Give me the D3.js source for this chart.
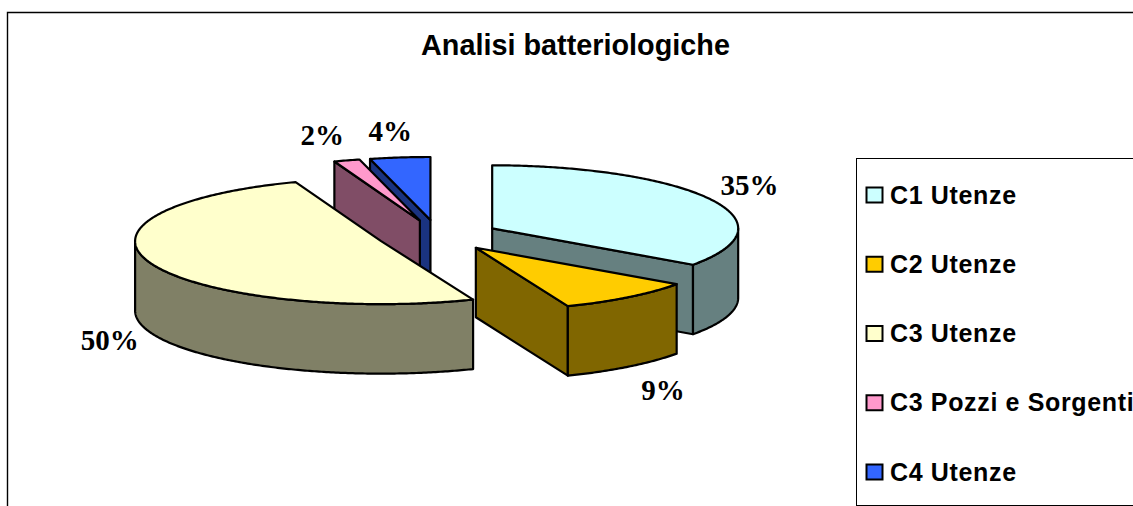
<!DOCTYPE html>
<html>
<head>
<meta charset="utf-8">
<script src="https://cdn.jsdelivr.net/npm/d3@7"></script>
<style>
  html, body { margin: 0; padding: 0; background: #fff; overflow: hidden; }
  svg { display: block; }
</style>
</head>
<body>
<div id="chart"></div>
<script>
// data
var categories = ['C1 Utenze', 'C2 Utenze', 'C3 Utenze', 'C3 Pozzi e Sorgenti', 'C4 Utenze'];
var values = [34.8, 9.1, 50.45, 1.7, 3.95];
var topColors = ['#ccffff', '#ffcc00', '#ffffcc', '#ff99cc', '#3366ff'];
var sideColors = ['#668080', '#806600', '#808066', '#804d66', '#1a3380'];
var chartTitle = 'Analisi batteriologiche';

// layout of the tilted pie
var width = 1133, height = 506;
var cx = 438, cy = 235.5;
var rx = 246, ry = 63;
var depth = 69.5;
var explode = 61;
var labelShiftX = [-2, 6, 1, -11, -4];
var labelShiftY = [-1, 5, 0, 0, 0];
var legendRows = d3.scalePoint().domain(categories).range([195, 472]);

var svg = d3.select('#chart').append('svg')
    .attr('width', width)
    .attr('height', height);

// chart frame
svg.append('path')
    .attr('d', 'M7.5,' + height + 'V12.5H' + width)
    .attr('fill', 'none')
    .attr('stroke', '#000')
    .attr('stroke-width', 1.4);

svg.append('text')
    .attr('x', 575.5)
    .attr('y', 55)
    .attr('text-anchor', 'middle')
    .attr('font-family', '"Liberation Sans", Arial, sans-serif')
    .attr('font-weight', 'bold')
    .attr('font-size', 28.8)
    .text(chartTitle);

// angles come from d3.pie, 0 is 12 o'clock, clockwise
var pie = d3.pie().sort(null).value(function(d) { return d; });
var arcs = pie(values).map(function(d, i) {
  var mid = (d.startAngle + d.endAngle) / 2;
  return {
    index: i,
    start: d.startAngle,
    end: d.endAngle,
    mid: mid,
    ox: cx + explode * Math.sin(mid),
    oy: cy - explode * (ry / rx) * Math.cos(mid)
  };
});

function rim(a, angle, drop) {
  return [a.ox + rx * Math.sin(angle), a.oy - ry * Math.cos(angle) + (drop || 0)];
}

function sampleAngles(from, to) {
  var n = Math.max(2, Math.ceil((to - from) / 0.01));
  return d3.range(n + 1).map(function(k) { return from + (to - from) * k / n; });
}

var line = d3.line();

function topFace(a) {
  var pts = [[a.ox, a.oy]];
  sampleAngles(a.start, a.end).forEach(function(t) { pts.push(rim(a, t)); });
  return line(pts) + 'Z';
}

function cutFace(a, angle) {
  var p = rim(a, angle);
  return line([[a.ox, a.oy], p, [p[0], p[1] + depth], [a.ox, a.oy + depth]]) + 'Z';
}

// outer wall, only the part facing the viewer
function outerWall(a) {
  var from = Math.max(a.start, Math.PI / 2);
  var to = Math.min(a.end, Math.PI * 1.5);
  if (to <= from) return null;
  var ts = sampleAngles(from, to);
  var pts = ts.map(function(t) { return rim(a, t); });
  var low = ts.slice().reverse().map(function(t) { return rim(a, t, depth); });
  return line(pts.concat(low)) + 'Z';
}

// back slices first
var ordered = arcs.slice().sort(function(p, q) { return Math.cos(q.mid) - Math.cos(p.mid); });

var slices = svg.selectAll('g.slice')
    .data(ordered)
    .enter().append('g')
    .attr('class', 'slice')
    .attr('stroke', '#000')
    .attr('stroke-width', 2.2)
    .attr('stroke-linejoin', 'round');

slices.each(function(a) {
  var g = d3.select(this);
  var side = sideColors[a.index];
  // a cut face shows only if its outward normal points to the front
  if (Math.cos(a.start - Math.PI / 2) < -1e-6) {
    g.append('path').attr('d', cutFace(a, a.start)).attr('fill', side);
  }
  if (Math.cos(a.end + Math.PI / 2) < -1e-6) {
    g.append('path').attr('d', cutFace(a, a.end)).attr('fill', side);
  }
  var wall = outerWall(a);
  if (wall) g.append('path').attr('d', wall).attr('fill', side);
  g.append('path').attr('d', topFace(a)).attr('fill', topColors[a.index]);
});

// percentage labels
svg.selectAll('text.pct')
    .data(arcs)
    .enter().append('text')
    .attr('class', 'pct')
    .attr('text-anchor', 'middle')
    .attr('font-family', '"Liberation Serif", "Times New Roman", serif')
    .attr('font-weight', 'bold')
    .attr('font-size', 29)
    .attr('x', function(a) {
      return rim(a, a.mid)[0] + 46 * Math.sin(a.mid) + labelShiftX[a.index];
    })
    .attr('y', function(a) {
      var drop = Math.cos(a.mid) < 0 ? 68 : 0;
      return rim(a, a.mid, drop)[1] - 26 * Math.cos(a.mid) + 9 + labelShiftY[a.index];
    })
    .text(function(a) { return Math.round(values[a.index]) + '%'; });

// legend box runs off the right side of the picture
svg.append('rect')
    .attr('x', 856.5)
    .attr('y', 158.5)
    .attr('width', 300)
    .attr('height', 347)
    .attr('fill', '#fff')
    .attr('stroke', '#000')
    .attr('stroke-width', 1);

var legend = svg.selectAll('g.legend')
    .data(categories)
    .enter().append('g')
    .attr('class', 'legend')
    .attr('transform', function(d) { return 'translate(866,' + legendRows(d) + ')'; });

legend.append('rect')
    .attr('x', 0.5)
    .attr('y', -7.5)
    .attr('width', 16)
    .attr('height', 15)
    .attr('fill', function(d, i) { return topColors[i]; })
    .attr('stroke', '#000')
    .attr('stroke-width', 2);

legend.append('text')
    .attr('x', 24)
    .attr('y', 8.5)
    .attr('font-family', '"Liberation Sans", Arial, sans-serif')
    .attr('font-weight', 'bold')
    .attr('font-size', 25)
    .attr('letter-spacing', 0.65)
    .text(function(d) { return d; });
</script>
</body>
</html>
